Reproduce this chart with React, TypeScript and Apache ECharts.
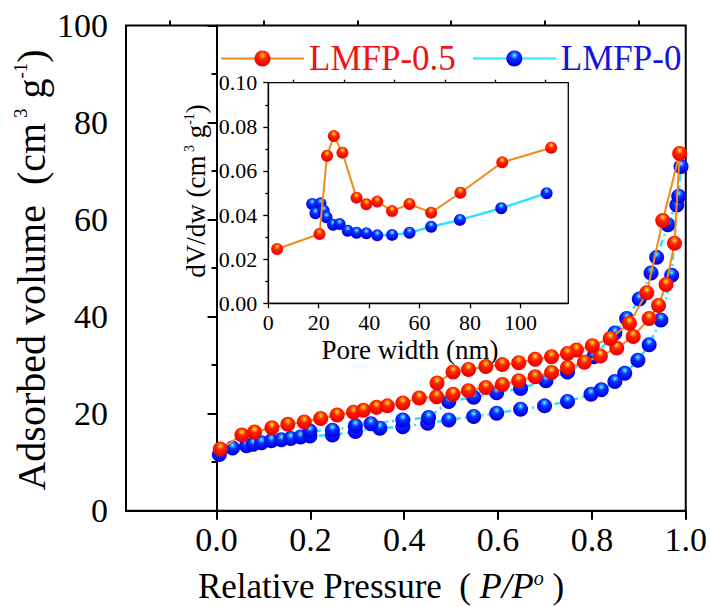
import { useEffect, useRef } from 'react';
import * as echarts from 'echarts';

// N2 isotherm, LMFP-0.5 (relative pressure, adsorbed volume)
const lmfp05Adsorption: number[][] = [
  [0.008, 12.7], [0.054, 15.6], [0.081, 16.2], [0.118, 17.1], [0.152, 17.8], [0.187, 18.3],
  [0.222, 19.0], [0.257, 19.7], [0.292, 20.3], [0.313, 20.7], [0.341, 21.3], [0.364, 21.6],
  [0.397, 22.2], [0.432, 23.2], [0.469, 23.5], [0.504, 24.0], [0.537, 24.7], [0.574, 25.4],
  [0.609, 26.0], [0.644, 26.8], [0.679, 27.6], [0.714, 28.5], [0.748, 29.5], [0.784, 30.6],
  [0.818, 31.9], [0.853, 33.5], [0.888, 35.9], [0.922, 39.6], [0.942, 42.3], [0.958, 46.6],
  [0.976, 55.1], [0.987, 73.6],
];
const lmfp05Desorption: number[][] = [
  [0.951, 59.8], [0.917, 44.9], [0.880, 38.6], [0.839, 35.5], [0.801, 34.0], [0.767, 33.1],
  [0.748, 32.4], [0.714, 31.7], [0.679, 31.2], [0.644, 30.5], [0.609, 30.1], [0.574, 29.7],
  [0.537, 29.1], [0.504, 28.6], [0.470, 26.3],
];

// N2 isotherm, LMFP-0
const lmfp0Adsorption: number[][] = [
  [0.006, 11.6], [0.034, 12.9], [0.064, 13.4], [0.078, 13.7], [0.096, 14.0], [0.117, 14.4],
  [0.138, 14.6], [0.158, 14.9], [0.179, 15.2], [0.199, 15.4], [0.247, 15.6], [0.296, 16.3],
  [0.348, 17.0], [0.397, 17.3], [0.450, 18.0], [0.495, 18.7], [0.548, 19.4], [0.597, 20.1],
  [0.648, 20.9], [0.699, 21.6], [0.748, 22.5], [0.798, 24.0], [0.820, 24.9], [0.849, 26.6],
  [0.870, 28.3], [0.898, 31.0], [0.922, 34.2], [0.947, 39.3], [0.970, 48.5], [0.981, 63.0],
  [0.990, 70.9],
];
const lmfp0Desorption: number[][] = [
  [0.985, 64.8], [0.962, 58.9], [0.938, 52.2], [0.926, 49.0], [0.901, 43.6], [0.874, 39.6],
  [0.849, 36.6], [0.804, 31.7], [0.748, 28.6], [0.702, 26.8], [0.648, 25.2], [0.597, 24.3],
  [0.548, 23.4], [0.495, 22.5], [0.452, 19.2], [0.397, 18.7], [0.329, 17.9], [0.296, 17.5],
  [0.247, 16.6], [0.199, 16.4],
];

// Pore size distribution (inset)
const poreWidthLmfp05 = [3.5, 20.3, 23.3, 26.0, 29.4, 35.0, 38.9, 43.2, 49.1, 56.0, 64.6, 76.2, 92.8, 112.2];
const dvdwLmfp05 = [0.0246, 0.0314, 0.0669, 0.0758, 0.0683, 0.0479, 0.0449, 0.0461, 0.0418, 0.045, 0.0411, 0.0501, 0.0639, 0.0705];
const poreWidthLmfp0 = [17.4, 18.7, 20.7, 22.0, 23.1, 25.7, 28.3, 31.5, 35.0, 38.9, 43.2, 49.1, 56.0, 64.6, 76.0, 92.4, 110.4];
const dvdwLmfp0 = [0.045, 0.0408, 0.0453, 0.042, 0.039, 0.0356, 0.0359, 0.0329, 0.032, 0.0317, 0.0308, 0.031, 0.032, 0.0347, 0.0378, 0.0431, 0.0499];

// Axis ticks
const pressureTicks = [0, 0.2, 0.4, 0.6, 0.8, 1.0];
const pressureMinorTicks = [-0.1, 0.1, 0.3, 0.5, 0.7, 0.9];
const poreTicks = [0, 20, 40, 60, 80, 100];
const poreMinorTicks = [10, 30, 50, 70, 90, 110];

const SERIF = 'Liberation Serif';

// keep every chart text in the Times-like face
const chartCss = `.isotherm-chart text, .isotherm-chart tspan { font-family: 'Liberation Serif', 'Times New Roman', serif !important; }`;

// shaded "ball" markers
const redBall = {
  type: 'radial', x: 0.5, y: 0.3, r: 0.62,
  colorStops: [
    { offset: 0, color: '#ffe94a' },
    { offset: 0.18, color: '#ff8c10' },
    { offset: 0.42, color: '#ff2400' },
    { offset: 1, color: '#f00000' },
  ],
};
const blueBall = {
  type: 'radial', x: 0.5, y: 0.3, r: 0.62,
  colorStops: [
    { offset: 0, color: '#8affff' },
    { offset: 0.18, color: '#2a9cff' },
    { offset: 0.42, color: '#0a2cff' },
    { offset: 1, color: '#0000e6' },
  ],
};
const ORANGE = '#f28a1e';
const CYAN = '#2fe4f8';
const BLACK = '#000';

const zip = (xs: number[], ys: number[]) => xs.map((x, i) => [x, ys[i]]);

const tickStyle = (w: number) => ({ color: BLACK, width: w });

export default function App() {
  const ref = useRef<HTMLDivElement>(null);

  useEffect(() => {
    if (!ref.current) return;
    const chart = echarts.init(ref.current, undefined, { renderer: 'svg' });

    const option: any = {
      animation: false,
      textStyle: { fontFamily: SERIF },
      legend: {
        left: 215,
        top: 36,
        itemWidth: 83,
        itemHeight: 20,
        itemGap: 16,
        textStyle: { fontFamily: SERIF, fontSize: 35 },
        data: [
          { name: 'LMFP-0.5', textStyle: { color: '#f01414', fontFamily: SERIF, fontSize: 35 } },
          { name: 'LMFP-0', textStyle: { color: '#1414dc', fontFamily: SERIF, fontSize: 35 }, lineStyle: { type: 'solid' } },
        ],
      },
      grid: [
        { left: 126, right: 16.7, top: 25.4, height: 485.3, show: true, borderColor: BLACK, borderWidth: 2 },
        { left: 268.3, top: 82.7, width: 300, height: 220.6, show: true, borderColor: BLACK, borderWidth: 1.3, backgroundColor: '#fff' },
      ],
      xAxis: [
        {
          type: 'value', gridIndex: 0, min: -0.193, max: 1.0,
          axisLine: { show: true, lineStyle: tickStyle(2) },
          axisTick: { show: true, customValues: pressureTicks, length: 9, lineStyle: tickStyle(2) },
          axisLabel: {
            customValues: pressureTicks, margin: 12, color: BLACK, fontFamily: SERIF, fontSize: 34,
            formatter: (v: number) => v.toFixed(1),
          },
          splitLine: { show: false },
        },
        {
          type: 'value', gridIndex: 0, min: -0.193, max: 1.0,
          axisLine: { show: false },
          axisTick: { show: true, customValues: pressureMinorTicks, length: 5, lineStyle: tickStyle(2) },
          axisLabel: { show: false },
          splitLine: { show: false },
        },
        {
          type: 'value', gridIndex: 1, min: 0, max: 119,
          axisLine: { show: true, lineStyle: tickStyle(1.3) },
          axisTick: { show: true, customValues: poreTicks, length: 5, lineStyle: tickStyle(1.3) },
          axisLabel: { customValues: poreTicks, margin: 8, color: BLACK, fontFamily: SERIF, fontSize: 22 },
          splitLine: { show: false },
        },
        {
          type: 'value', gridIndex: 1, min: 0, max: 119,
          axisLine: { show: false },
          axisTick: { show: true, customValues: poreMinorTicks, length: 3, lineStyle: tickStyle(1.3) },
          axisLabel: { show: false },
          splitLine: { show: false },
        },
      ],
      yAxis: [
        {
          type: 'value', gridIndex: 0, min: 0, max: 100, interval: 20,
          axisLine: { show: true, lineStyle: tickStyle(2) },
          axisTick: { show: true, length: 9, lineStyle: tickStyle(2) },
          minorTick: { show: true, splitNumber: 2, length: 5, lineStyle: tickStyle(2) },
          axisLabel: { margin: 18, color: BLACK, fontFamily: SERIF, fontSize: 34 },
          splitLine: { show: false },
        },
        {
          type: 'value', gridIndex: 1, min: 0, max: 0.1, interval: 0.02,
          axisLine: { show: true, lineStyle: tickStyle(1.3) },
          axisTick: { show: true, length: 5, lineStyle: tickStyle(1.3) },
          minorTick: { show: true, splitNumber: 2, length: 3, lineStyle: tickStyle(1.3) },
          axisLabel: {
            margin: 11, color: BLACK, fontFamily: SERIF, fontSize: 22,
            formatter: (v: number) => v.toFixed(2),
          },
          splitLine: { show: false },
        },
      ],
      series: [
        {
          name: 'LMFP-0', type: 'line', xAxisIndex: 0, yAxisIndex: 0,
          data: [...lmfp0Adsorption, ...lmfp0Desorption],
          symbol: 'circle', symbolSize: 15, showAllSymbol: true,
          lineStyle: { color: CYAN, width: 2.5, type: [7, 4, 2, 4] },
          itemStyle: { color: blueBall, borderWidth: 0 },
          z: 2,
        },
        {
          name: 'LMFP-0.5', type: 'line', xAxisIndex: 0, yAxisIndex: 0,
          data: [...lmfp05Adsorption, ...lmfp05Desorption],
          symbol: 'circle', symbolSize: 15, showAllSymbol: true,
          lineStyle: { color: ORANGE, width: 2 },
          itemStyle: { color: redBall, borderWidth: 0 },
          z: 3,
        },
        {
          name: 'LMFP-0', type: 'line', xAxisIndex: 2, yAxisIndex: 1,
          data: zip(poreWidthLmfp0, dvdwLmfp0),
          symbol: 'circle', symbolSize: 12, showAllSymbol: true,
          lineStyle: { color: CYAN, width: 2.5 },
          itemStyle: { color: blueBall, borderWidth: 0 },
          z: 4,
        },
        {
          name: 'LMFP-0.5', type: 'line', xAxisIndex: 2, yAxisIndex: 1,
          data: zip(poreWidthLmfp05, dvdwLmfp05),
          symbol: 'circle', symbolSize: 12, showAllSymbol: true,
          lineStyle: { color: ORANGE, width: 2 },
          itemStyle: { color: redBall, borderWidth: 0 },
          z: 5,
        },
      ],
      graphic: [
        {
          type: 'text', x: 31, y: 270, rotation: Math.PI / 2,
          style: {
            text: '{n|Adsorbed volume  (cm}{s| 3}{n| g}{s|-1}{n|)}',
            align: 'center', verticalAlign: 'middle',
            rich: {
              n: { fontFamily: SERIF, fontSize: 40, lineHeight: 40, fill: BLACK },
              s: { fontFamily: SERIF, fontSize: 19, lineHeight: 18, verticalAlign: 'top', fill: BLACK },
            },
          },
        },
        {
          type: 'text', x: 381, y: 586,
          style: {
            text: '{n|Relative Pressure  ( }{i|P/P}{s|o}{n| )}',
            align: 'center', verticalAlign: 'middle',
            rich: {
              n: { fontFamily: SERIF, fontSize: 35, lineHeight: 36, fill: BLACK },
              i: { fontFamily: SERIF, fontStyle: 'italic', fontSize: 36, lineHeight: 36, fill: BLACK },
              s: { fontFamily: SERIF, fontStyle: 'italic', fontSize: 20, lineHeight: 18, verticalAlign: 'top', fill: BLACK },
            },
          },
        },
        {
          type: 'text', x: 196, y: 191, rotation: Math.PI / 2,
          style: {
            text: '{n|dV/dw (cm}{s| 3}{n| g}{s|-1}{n|)}',
            align: 'center', verticalAlign: 'middle',
            rich: {
              n: { fontFamily: SERIF, fontSize: 27, lineHeight: 28, fill: BLACK },
              s: { fontFamily: SERIF, fontSize: 14, lineHeight: 13, verticalAlign: 'top', fill: BLACK },
            },
          },
        },
        {
          type: 'text', x: 410, y: 350,
          style: {
            text: 'Pore width (nm)', align: 'center', verticalAlign: 'middle',
            fontFamily: SERIF, fontSize: 27, fill: BLACK,
          },
        },
      ],
    };

    chart.setOption(option);
    return () => chart.dispose();
  }, []);

  return (
    <>
      <style>{chartCss}</style>
      <div
        ref={ref}
        className="isotherm-chart"
        style={{ position: 'fixed', left: 0, top: 0, width: 710, height: 606, background: '#fff' }}
      />
    </>
  );
}
